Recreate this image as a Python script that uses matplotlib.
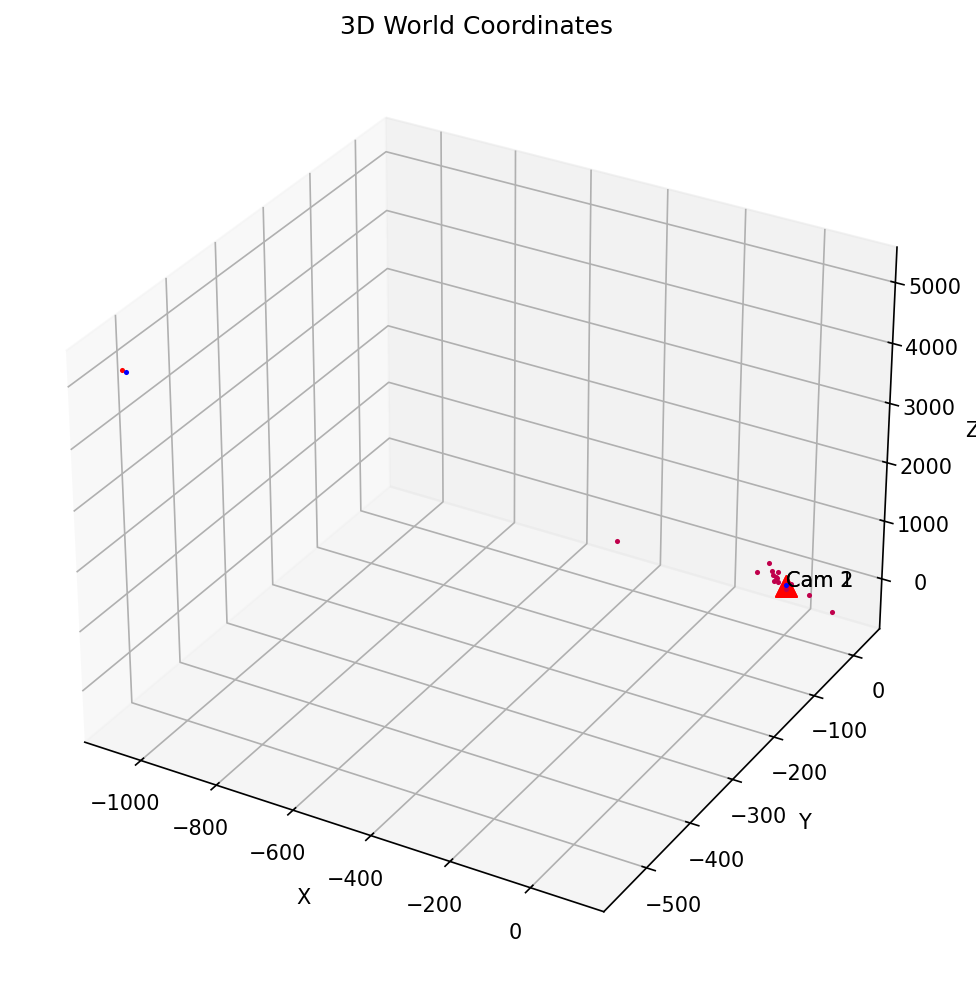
import matplotlib
matplotlib.use('Agg')
import matplotlib.pyplot as plt
from mpl_toolkits.mplot3d import Axes3D

# the y values are a guess since depth can't be seen
point_x = [-329, -33, -63, -24, -9, -21, -13, -11, -18, -8, 25, 13, 73, 95]
point_y = [-107, -13, -13, -13, -13, -13, -13, -13, -13, -13, -13, -13, -13, 26]
point_z = [857, 414, 200, 292, 304, 229, 208, 196, 130, 133, 163, 52, 63, -465]

red_x = [-1066]
red_y = [-553]
red_z = [5165]

blue_x = [-1056, 13]
blue_y = [-553, -13]
blue_z = [5150, 115]

cam_x = [13, 13]
cam_y = [-13, -13]
cam_z = [98, 98]
cam_labels = ['Cam 1', 'Cam 2']

fig = plt.figure(figsize=(8, 8))
ax = fig.add_subplot(111, projection='3d')
ax.computed_zorder = False

ax.scatter(cam_x, cam_y, cam_z, c='red', marker='^', s=100, depthshade=False)
ax.scatter(red_x, red_y, red_z, c='red', s=6, linewidths=0, depthshade=False)
ax.scatter(point_x, point_y, point_z, c='#c0004c', s=6, linewidths=0, depthshade=False)
ax.scatter(blue_x, blue_y, blue_z, c='blue', s=6, linewidths=0, depthshade=False)
for x, y, z, label in zip(cam_x, cam_y, cam_z, cam_labels):
    ax.text(x, y, z, label)

ax.set_xlabel('X')
ax.set_ylabel('Y')
ax.set_zlabel('Z')
ax.set_title('3D World Coordinates')

fig.savefig('out.png', dpi=150, bbox_inches='tight')
